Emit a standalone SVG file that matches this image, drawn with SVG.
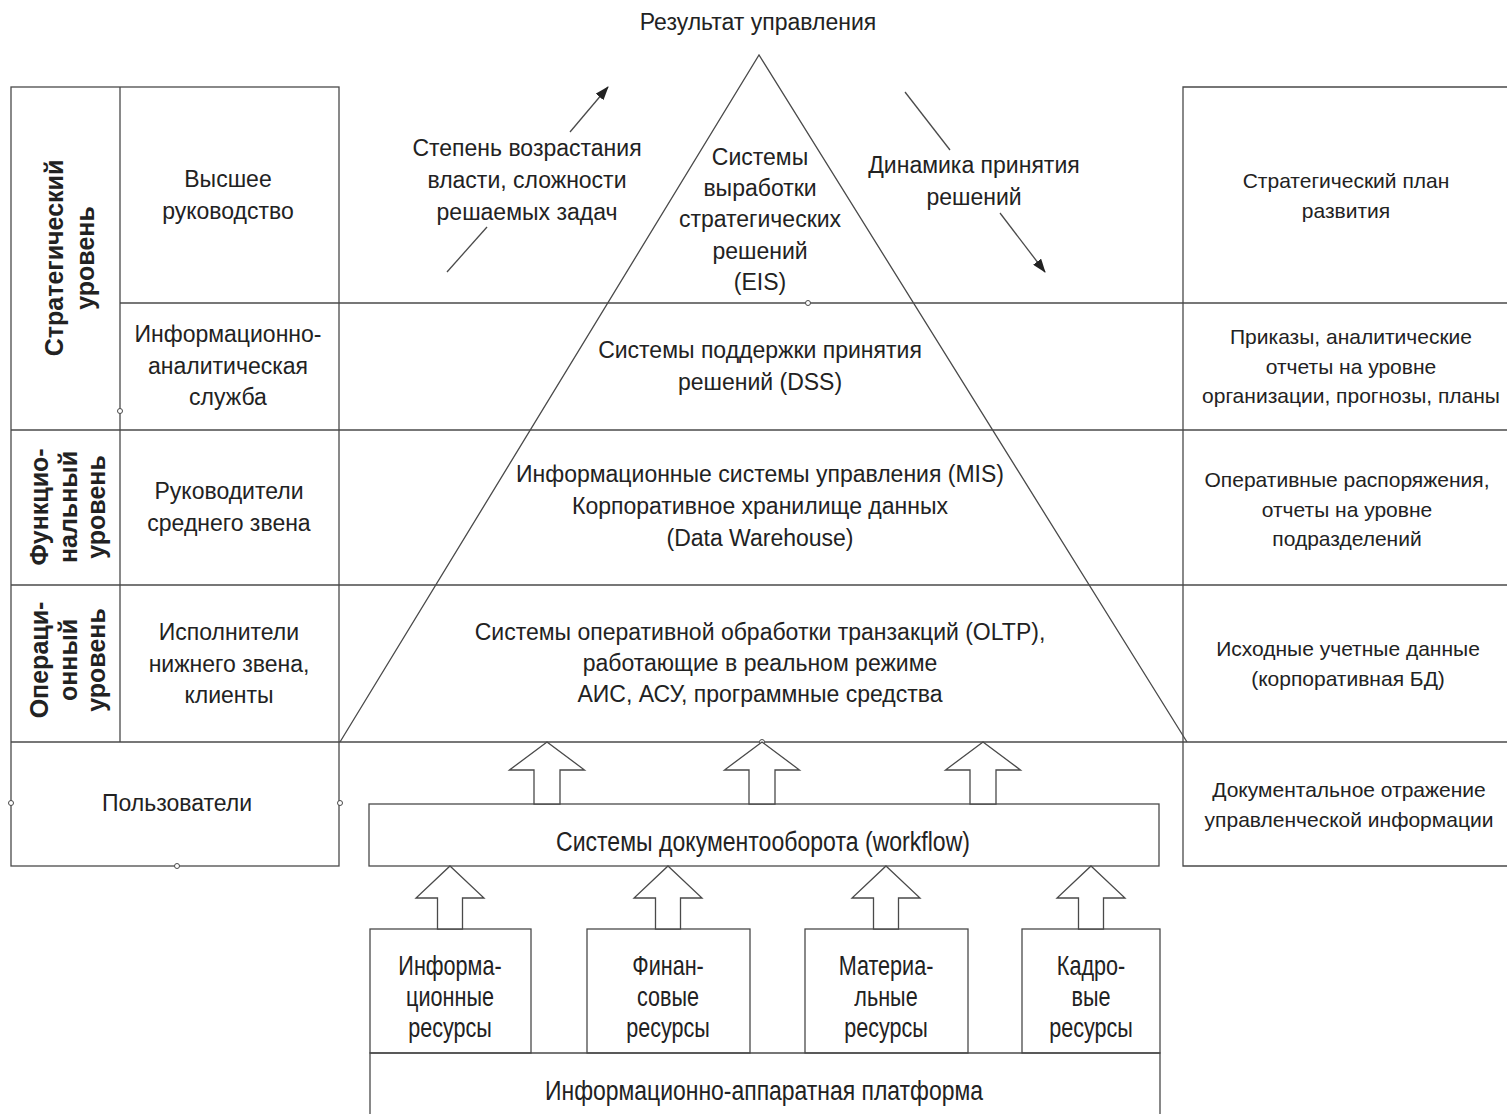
<svg xmlns="http://www.w3.org/2000/svg" width="1507" height="1114" viewBox="0 0 1507 1114">
<style>
.ln{stroke:#4a4a4a;stroke-width:1.3;fill:none}
.bx{stroke:#4a4a4a;stroke-width:1.3;fill:#fff}
.pt{stroke:#4a4a4a;stroke-width:1;fill:#fff}
.t{font-family:"Liberation Sans",Arial,sans-serif;font-size:23px;fill:#222;text-anchor:middle}
.r{font-size:21px}
.v{font-weight:bold;font-size:25px}
.n{font-size:27px}
</style>
<defs>
<marker id="ah" viewBox="0 0 14 10" refX="13" refY="5" markerWidth="14" markerHeight="10" markerUnits="userSpaceOnUse" orient="auto">
<path d="M0,0 L14,5 L0,10 Z" fill="#222"/>
</marker>
</defs>
<rect width="1507" height="1114" fill="#fff"/>

<g id="frame">
<rect class="ln" x="11" y="87" width="328" height="779"/>
<line class="ln" x1="120" y1="87" x2="120" y2="742"/>
<line class="ln" x1="120" y1="303" x2="1507" y2="303"/>
<line class="ln" x1="11" y1="430" x2="1507" y2="430"/>
<line class="ln" x1="11" y1="585" x2="1507" y2="585"/>
<line class="ln" x1="11" y1="742" x2="1507" y2="742"/>
<polyline class="ln" points="1507,87 1183,87 1183,866 1507,866"/>
<polyline class="ln" points="340,742 759,55 1187,742"/>
<circle class="pt" cx="120" cy="411" r="2.5"/>
<circle class="pt" cx="11" cy="803" r="2.5"/>
<circle class="pt" cx="340" cy="803" r="2.5"/>
<circle class="pt" cx="177" cy="866" r="2.5"/>
<circle class="pt" cx="808" cy="303" r="2.5"/>
<circle class="pt" cx="762" cy="742" r="2.5"/>
</g>

<g id="result"><text class="t" x="758" y="30">Результат управления</text></g>

<g id="level-strategic"><text class="t v" transform="translate(63,258) rotate(-90)"><tspan x="0" y="0">Стратегический</tspan><tspan x="0" dy="31">уровень</tspan></text></g>
<g id="level-functional"><text class="t v" transform="translate(48,507) rotate(-90)"><tspan x="0" y="0">Функцио-</tspan><tspan x="0" dy="28.5">нальный</tspan><tspan x="0" dy="28.5">уровень</tspan></text></g>
<g id="level-operational"><text class="t v" transform="translate(48,660) rotate(-90)"><tspan x="0" y="0">Операци-</tspan><tspan x="0" dy="28.5">онный</tspan><tspan x="0" dy="28.5">уровень</tspan></text></g>

<g id="top-mgmt"><text class="t"><tspan x="228" y="187">Высшее</tspan><tspan x="228" dy="31.5">руководство</tspan></text></g>
<g id="analytic"><text class="t"><tspan x="228" y="342">Информационно-</tspan><tspan x="228" dy="31.5">аналитическая</tspan><tspan x="228" dy="31.5">служба</tspan></text></g>
<g id="middle-mgmt"><text class="t"><tspan x="229" y="499">Руководители</tspan><tspan x="229" dy="31.5">среднего звена</tspan></text></g>
<g id="executors"><text class="t"><tspan x="229" y="640">Исполнители</tspan><tspan x="229" dy="31.5">нижнего звена,</tspan><tspan x="229" dy="31.5">клиенты</tspan></text></g>
<g id="users"><text class="t" x="177" y="811">Пользователи</text></g>

<g id="eis"><text class="t"><tspan x="760" y="165">Системы</tspan><tspan x="760" dy="31.2">выработки</tspan><tspan x="760" dy="31.2">стратегических</tspan><tspan x="760" dy="31.2">решений</tspan><tspan x="760" dy="31.2">(EIS)</tspan></text></g>
<g id="dss"><text class="t"><tspan x="760" y="358">Системы поддержки принятия</tspan><tspan x="760" dy="31.5">решений (DSS)</tspan></text></g>
<g id="mis"><text class="t"><tspan x="760" y="482">Информационные системы управления (MIS)</tspan><tspan x="760" dy="32">Корпоративное хранилище данных</tspan><tspan x="760" dy="32">(Data Warehouse)</tspan></text></g>
<g id="oltp"><text class="t"><tspan x="760" y="640">Системы оперативной обработки транзакций (OLTP),</tspan><tspan x="760" dy="31">работающие в реальном режиме</tspan><tspan x="760" dy="31">АИС, АСУ, программные средства</tspan></text></g>

<g id="power-label"><text class="t"><tspan x="527" y="156">Степень возрастания</tspan><tspan x="527" dy="32">власти, сложности</tspan><tspan x="527" dy="32">решаемых задач</tspan></text></g>
<g id="dynamics-label"><text class="t"><tspan x="974" y="173">Динамика принятия</tspan><tspan x="974" dy="32">решений</tspan></text></g>

<g id="out-strategic"><text class="t r"><tspan x="1346" y="188">Стратегический план</tspan><tspan x="1346" dy="29.5">развития</tspan></text></g>
<g id="out-orders"><text class="t r"><tspan x="1351" y="344">Приказы, аналитические</tspan><tspan x="1351" dy="29.5">отчеты на уровне</tspan><tspan x="1351" dy="29.5">организации, прогнозы, планы</tspan></text></g>
<g id="out-operative"><text class="t r"><tspan x="1347" y="487">Оперативные распоряжения,</tspan><tspan x="1347" dy="29.5">отчеты на уровне</tspan><tspan x="1347" dy="29.5">подразделений</tspan></text></g>
<g id="out-source"><text class="t r"><tspan x="1348" y="656">Исходные учетные данные</tspan><tspan x="1348" dy="30">(корпоративная БД)</tspan></text></g>
<g id="out-docs"><text class="t r"><tspan x="1349" y="797">Документальное отражение</tspan><tspan x="1349" dy="29.5">управленческой информации</tspan></text></g>

<g id="workflow">
<rect class="bx" x="369" y="804" width="790" height="62"/>
<text class="t n" x="763" y="851" textLength="414" lengthAdjust="spacingAndGlyphs">Системы документооборота (workflow)</text>
</g>

<g id="res-info">
<rect class="bx" x="370" y="929" width="161" height="124"/>
<g transform="translate(450,0) scale(0.8,1)"><text class="t n"><tspan x="0" y="975">Информа-</tspan><tspan x="0" dy="31">ционные</tspan><tspan x="0" dy="31">ресурсы</tspan></text></g>
</g>
<g id="res-fin">
<rect class="bx" x="587" y="929" width="163" height="124"/>
<g transform="translate(668,0) scale(0.8,1)"><text class="t n"><tspan x="0" y="975">Финан-</tspan><tspan x="0" dy="31">совые</tspan><tspan x="0" dy="31">ресурсы</tspan></text></g>
</g>
<g id="res-mat">
<rect class="bx" x="805" y="929" width="163" height="124"/>
<g transform="translate(886,0) scale(0.8,1)"><text class="t n"><tspan x="0" y="975">Материа-</tspan><tspan x="0" dy="31">льные</tspan><tspan x="0" dy="31">ресурсы</tspan></text></g>
</g>
<g id="res-hr">
<rect class="bx" x="1022" y="929" width="138" height="124"/>
<g transform="translate(1091,0) scale(0.8,1)"><text class="t n"><tspan x="0" y="975">Кадро-</tspan><tspan x="0" dy="31">вые</tspan><tspan x="0" dy="31">ресурсы</tspan></text></g>
</g>

<g id="platform">
<polyline class="ln" points="370,1114 370,1053 1160,1053 1160,1114"/>
<text class="t n" x="764" y="1100" textLength="438" lengthAdjust="spacingAndGlyphs">Информационно-аппаратная платформа</text>
</g>

<g id="connectors">
<line class="ln" x1="447" y1="272" x2="487" y2="227"/>
<line class="ln" x1="570" y1="132" x2="608" y2="87" marker-end="url(#ah)"/>
<line class="ln" x1="905" y1="92" x2="950" y2="150"/>
<line class="ln" x1="1000" y1="213" x2="1045" y2="272" marker-end="url(#ah)"/>
<polygon class="bx" points="547,742 584.5,770 560,770 560,804 534,804 534,770 509.5,770"/>
<polygon class="bx" points="762,742 799.5,770 775,770 775,804 749,804 749,770 724.5,770"/>
<polygon class="bx" points="983,742 1020.5,770 996,770 996,804 970,804 970,770 945.5,770"/>
<polygon class="bx" points="450,866 484,898 462.5,898 462.5,929 437.5,929 437.5,898 416,898"/>
<polygon class="bx" points="668,866 702,898 680.5,898 680.5,929 655.5,929 655.5,898 634,898"/>
<polygon class="bx" points="886,866 920,898 898.5,898 898.5,929 873.5,929 873.5,898 852,898"/>
<polygon class="bx" points="1091,866 1125,898 1103.5,898 1103.5,929 1078.5,929 1078.5,898 1057,898"/>
</g>
</svg>
